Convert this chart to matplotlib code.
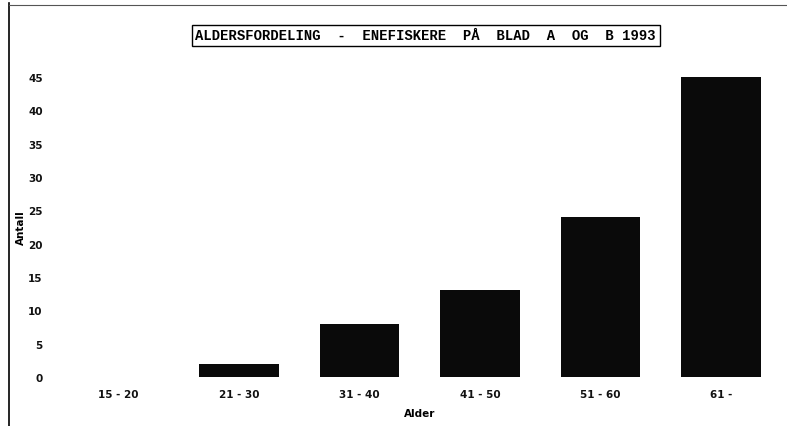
import matplotlib
matplotlib.use("Agg")
import matplotlib.pyplot as plt
from matplotlib.lines import Line2D

# Alder / Antall
aldersgrupper = ["15 - 20", "21 - 30", "31 - 40", "41 - 50", "51 - 60", "61 -"]
antall = [0, 2, 8, 13, 24, 45]
yticks = [0, 5, 10, 15, 20, 25, 30, 35, 40, 45]

fig = plt.figure(figsize=(7.87, 4.27), dpi=100)
ax = fig.add_axes([0.0737, 0.1148, 0.919, 0.7026])

x = range(len(aldersgrupper))
ax.bar(x, antall, width=0.66, color="#0a0a0a")

ax.set_xlim(-0.5, 5.5)
ax.set_ylim(0, 45)
ax.set_yticks(yticks)
ax.set_xticks(list(x))
ax.set_xticklabels(aldersgrupper)
ax.tick_params(axis="both", length=0, labelsize=7.5, colors="#111111")
ax.tick_params(axis="y", pad=11)
ax.tick_params(axis="x", pad=9)
for lbl in ax.get_xticklabels() + ax.get_yticklabels():
    lbl.set_fontweight("bold")
for s in ax.spines.values():
    s.set_visible(False)

ax.set_xlabel("Alder", fontsize=7.5, fontweight="bold", labelpad=6)
fig.text(0.027, 0.468, "Antall", rotation=90, fontsize=7.5, fontweight="bold",
         ha="center", va="center")

# title in a box, typewriter style
fig.text(0.541, 0.915, "ALDERSFORDELING  -  ENEFISKERE  PÅ  BLAD  A  OG  B 1993",
         family="Liberation Mono", fontweight="bold", fontsize=10,
         ha="center", va="center",
         bbox=dict(boxstyle="square,pad=0.25", facecolor="white",
                   edgecolor="black", linewidth=1))

# page border lines
fig.add_artist(Line2D([0.011, 0.011], [0.0, 0.99], color="black", lw=1.2,
                      transform=fig.transFigure))
fig.add_artist(Line2D([0.011, 1.0], [0.985, 0.985], color="#555555", lw=0.8,
                      transform=fig.transFigure))

fig.savefig("out.png", dpi=100)
